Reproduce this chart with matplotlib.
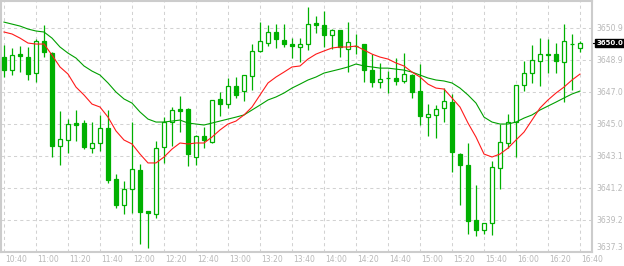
import matplotlib
matplotlib.use("Agg")
import matplotlib.pyplot as plt
import matplotlib.transforms as mtransforms
import numpy as np

# 5-minute candles from 10:40 to 16:40
opens = [3649.14, 3648.35, 3649.32, 3649.14, 3648.17, 3650.11, 3649.38, 3643.75, 3644.11, 3645.14,
         3645.14, 3643.62, 3643.93, 3644.84, 3641.75, 3640.17, 3641.14, 3642.29, 3639.81, 3639.62,
         3643.69, 3645.20, 3645.99, 3645.99, 3643.08, 3644.35, 3643.99, 3646.60, 3646.29, 3647.38,
         3647.08, 3647.99, 3649.51, 3649.99, 3650.66, 3650.17, 3649.93, 3649.75, 3649.93, 3651.20,
         3651.08, 3650.48, 3650.78, 3649.63, 3649.81, 3649.93, 3648.35, 3647.63, 3647.87, 3647.87,
         3647.69, 3648.05, 3647.08, 3645.50, 3645.63, 3646.05, 3646.41, 3643.26, 3642.59, 3639.26,
         3638.65, 3639.08, 3642.41, 3643.93, 3645.20, 3647.44, 3648.17, 3648.90, 3649.32, 3649.32,
         3648.84, 3649.93, 3649.69]
highs = [3649.87, 3649.69, 3649.81, 3649.75, 3650.23, 3651.08, 3649.44, 3645.87, 3645.38, 3645.93,
         3645.32, 3645.20, 3645.63, 3645.93, 3642.05, 3641.62, 3645.20, 3642.65, 3639.81, 3644.05,
         3645.50, 3646.11, 3646.78, 3646.05, 3644.41, 3644.90, 3646.54, 3647.02, 3647.87, 3647.93,
         3648.05, 3649.93, 3651.26, 3651.08, 3651.14, 3651.14, 3650.29, 3650.29, 3652.17, 3651.63,
         3651.93, 3650.84, 3650.78, 3651.26, 3650.54, 3649.93, 3649.32, 3648.78, 3648.29, 3649.08,
         3649.38, 3648.11, 3648.72, 3646.29, 3646.23, 3647.26, 3646.90, 3643.32, 3643.93, 3641.38,
         3639.08, 3642.84, 3645.08, 3645.69, 3647.44, 3648.90, 3649.87, 3650.29, 3650.23, 3649.99,
         3651.14, 3650.54, 3650.11]
lows = [3647.93, 3648.05, 3648.23, 3647.75, 3647.63, 3649.14, 3643.08, 3642.59, 3643.32, 3644.05,
        3643.56, 3643.32, 3643.44, 3641.50, 3639.99, 3639.62, 3639.68, 3637.80, 3637.56, 3639.38,
        3642.72, 3643.75, 3644.59, 3642.53, 3642.59, 3643.62, 3643.93, 3645.56, 3646.05, 3646.66,
        3646.47, 3647.14, 3649.44, 3649.81, 3649.69, 3649.75, 3649.08, 3648.84, 3649.57, 3650.60,
        3649.75, 3649.63, 3649.14, 3648.23, 3649.32, 3647.63, 3647.32, 3647.26, 3646.96, 3647.44,
        3647.57, 3646.66, 3645.02, 3644.35, 3644.23, 3645.20, 3642.17, 3640.17, 3638.41, 3638.29,
        3638.41, 3638.35, 3641.14, 3643.62, 3643.08, 3647.08, 3647.57, 3647.38, 3648.17, 3648.17,
        3646.41, 3647.14, 3649.44]
closes = [3648.35, 3649.26, 3649.20, 3648.11, 3650.11, 3649.44, 3643.75, 3644.17, 3645.08, 3645.02,
          3643.69, 3643.93, 3644.84, 3641.68, 3640.17, 3641.14, 3642.35, 3639.74, 3639.68, 3643.62,
          3645.20, 3645.93, 3645.87, 3643.26, 3644.35, 3644.11, 3646.54, 3646.29, 3647.38, 3646.84,
          3648.05, 3649.51, 3650.11, 3650.66, 3650.23, 3649.93, 3649.81, 3649.93, 3651.14, 3651.08,
          3650.48, 3650.78, 3649.75, 3650.05, 3649.81, 3648.35, 3647.63, 3647.81, 3647.87, 3647.69,
          3648.11, 3647.02, 3645.56, 3645.69, 3645.99, 3646.47, 3643.38, 3642.59, 3639.20, 3638.65,
          3639.08, 3642.47, 3643.99, 3645.20, 3647.44, 3648.17, 3648.96, 3649.32, 3649.26, 3648.90,
          3650.11, 3649.93, 3649.99]

# moving averages as drawn on the chart
ma_fast = [3650.66, 3650.54, 3650.29, 3649.99, 3649.93, 3649.93, 3649.26, 3648.54, 3648.11, 3647.32,
           3646.84, 3646.29, 3646.11, 3645.50, 3644.66, 3644.11, 3643.87, 3643.26, 3642.72, 3642.72,
           3643.08, 3643.56, 3643.93, 3643.87, 3643.93, 3643.93, 3644.29, 3644.72, 3645.08, 3645.26,
           3645.63, 3646.11, 3646.84, 3647.57, 3647.93, 3648.23, 3648.54, 3648.60, 3649.02, 3649.32,
           3649.51, 3649.69, 3649.75, 3649.75, 3649.81, 3649.57, 3649.32, 3649.14, 3649.02, 3648.78,
           3648.60, 3648.23, 3647.93, 3647.50, 3647.26, 3647.20, 3646.66, 3646.11, 3645.14, 3644.29,
           3643.26, 3643.08, 3643.26, 3643.62, 3644.11, 3644.59, 3645.32, 3646.05, 3646.54, 3646.96,
           3647.32, 3647.75, 3648.11]
ma_slow = [3651.26, 3651.14, 3651.02, 3650.84, 3650.72, 3650.66, 3650.29, 3649.75, 3649.38, 3649.08,
           3648.60, 3648.29, 3648.05, 3647.57, 3647.02, 3646.60, 3646.35, 3645.81, 3645.38, 3645.20,
           3645.20, 3645.26, 3645.32, 3645.14, 3645.08, 3645.02, 3645.14, 3645.26, 3645.38, 3645.50,
           3645.63, 3645.93, 3646.23, 3646.54, 3646.72, 3646.96, 3647.26, 3647.50, 3647.75, 3647.93,
           3648.17, 3648.29, 3648.41, 3648.54, 3648.72, 3648.60, 3648.54, 3648.47, 3648.47, 3648.41,
           3648.35, 3648.23, 3648.05, 3647.87, 3647.75, 3647.69, 3647.57, 3647.26, 3646.84, 3646.35,
           3645.50, 3645.20, 3645.08, 3645.08, 3645.20, 3645.44, 3645.63, 3645.93, 3646.17, 3646.41,
           3646.66, 3646.90, 3647.08]

time_labels = ["10:40", "11:00", "11:20", "11:40", "12:00", "12:20", "12:40", "13:00", "13:20", "13:40",
               "14:00", "14:20", "14:40", "15:00", "15:20", "15:40", "16:00", "16:20", "16:40"]
price_ticks = [3650.9, 3648.96, 3647.02, 3645.08, 3643.14, 3641.20, 3639.26, 3637.32]
price_labels = ["3650.9", "3648.9", "3647.0", "3645.0", "3643.1", "3641.2", "3639.2", "3637.3"]
last_price = 3650.0

CANDLE = "#00b000"
GRID = "#d2d2d2"
LABEL = "#b8b8b8"

W, H = 624, 266
fig = plt.figure(figsize=(W / 100, H / 100), dpi=100)
ax = fig.add_axes([1 / W, 14 / H, 591 / W, 251 / H])
ax.set_xlim(-0.375, 73.5)
ax.set_ylim(3637.32, 3652.54)
ax.set_xticks([])
ax.set_yticks([])
for s in ax.spines.values():
    s.set_color("#cccccc")
    s.set_linewidth(1.5)

x = np.arange(len(closes))
o = np.array(opens)
c = np.array(closes)

# grid
tick_pos = x[::4]
for xv in tick_pos:
    ax.axvline(xv, color=GRID, lw=0.75, ls=(0, (3, 3)), zorder=0)
for yv in price_ticks[:-1]:
    ax.axhline(yv, color=GRID, lw=0.75, ls=(0, (3, 3)), zorder=0)

# candles: wick first, body on top (hollow = up, filled = down)
ax.vlines(x, lows, highs, color=CANDLE, lw=0.9, zorder=2)
up = c >= o
bottom = np.minimum(o, c)
height = np.abs(c - o)
ax.bar(x[up], height[up], bottom=bottom[up], width=0.55, color="white",
       edgecolor=CANDLE, linewidth=0.9, zorder=3)
ax.bar(x[~up], height[~up], bottom=bottom[~up], width=0.55, color=CANDLE,
       edgecolor=CANDLE, linewidth=0.9, zorder=3)

# moving averages
ax.plot(x, ma_slow, color="#00a000", lw=0.8, zorder=4)
ax.plot(x, ma_fast, color="#ff1a1a", lw=0.8, zorder=4)

# time labels under the chart
tx = mtransforms.blended_transform_factory(ax.transData, ax.transAxes)
for xv, lab in zip(tick_pos, time_labels):
    ax.text(xv + 0.1, -0.03, lab, transform=tx, ha="left", va="center",
            fontsize=5.5, color=LABEL)

# price labels on the right
ty = mtransforms.blended_transform_factory(ax.transAxes, ax.transData)
for i, (yv, lab) in enumerate(zip(price_ticks, price_labels)):
    va = "bottom" if i == len(price_ticks) - 1 else "center"
    ax.text(1.0068, yv, lab, transform=ty, ha="left", va=va,
            fontsize=5.5, color=LABEL)

# current price marker
ax.plot([1.0, 1.004], [last_price, last_price], transform=ty, color="black",
        lw=0.8, clip_on=False)
ax.text(1.0075, last_price, f"{last_price:.1f}", transform=ty, ha="left", va="center",
        fontsize=5.0, color="white", fontweight="bold",
        bbox=dict(boxstyle="square,pad=0.15", fc="black", ec="black"))

fig.savefig("out.png", dpi=100, facecolor="white")
